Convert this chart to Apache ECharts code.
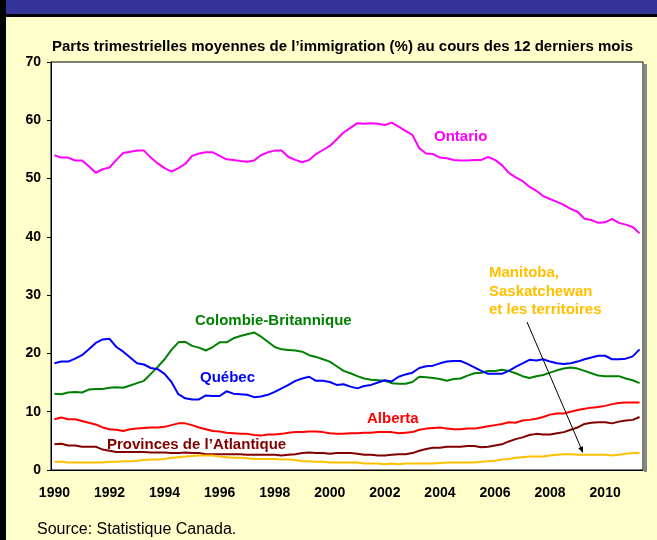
<!DOCTYPE html>
<html>
<head>
<meta charset="utf-8">
<script src="https://cdn.jsdelivr.net/npm/echarts@6/dist/echarts.min.js"></script>
<style>
  html, body { margin: 0; padding: 0; background: #ffffcc; }
  #chart { width: 657px; height: 540px; }
</style>
</head>
<body>
<div id="chart"></div>
<script>
"use strict";

// quarterly points, 1990 T1 .. 2011 T2
const firstYear = 1990;
const quarterCount = 86;
const quarters = [];
for (let i = 0; i < quarterCount; i++) quarters.push((firstYear + Math.floor(i / 4)) + " T" + (i % 4 + 1));

const ontario = [
  54.0, 53.6, 53.6, 53.1, 53.1, 52.1, 51.0, 51.6, 51.9, 53.2,
  54.4, 54.6, 54.8, 54.8, 53.6, 52.6, 51.8, 51.2, 51.8, 52.5,
  53.9, 54.3, 54.5, 54.5, 53.9, 53.3, 53.2, 53.0, 52.9, 53.1,
  54.0, 54.5, 54.8, 54.8, 53.7, 53.2, 52.8, 53.2, 54.2, 54.9,
  55.6, 56.7, 57.9, 58.7, 59.5, 59.4, 59.5, 59.4, 59.2, 59.6,
  58.9, 58.2, 57.5, 55.2, 54.3, 54.2, 53.6, 53.5, 53.2, 53.1,
  53.1, 53.2, 53.2, 53.7, 53.2, 52.3, 51.0, 50.2, 49.6, 48.6,
  47.9, 47.0, 46.5, 46.0, 45.5, 44.8, 44.3, 43.1, 42.9, 42.4,
  42.5, 43.1, 42.4, 42.1, 41.7, 40.6
];
const colombieBritannique = [
  13.1, 13.0, 13.3, 13.4, 13.3, 13.8, 13.9, 13.9, 14.1, 14.2,
  14.1, 14.5, 14.9, 15.3, 16.5, 17.7, 19.0, 20.6, 21.9, 22.0,
  21.3, 21.0, 20.5, 21.1, 21.9, 21.9, 22.6, 23.0, 23.3, 23.6,
  22.9, 22.0, 21.1, 20.7, 20.6, 20.5, 20.3, 19.7, 19.4, 19.0,
  18.6, 17.8, 17.0, 16.6, 16.1, 15.7, 15.5, 15.4, 15.3, 14.9,
  14.8, 14.8, 15.1, 16.0, 15.9, 15.8, 15.6, 15.3, 15.6, 15.7,
  16.2, 16.6, 16.7, 17.0, 17.0, 17.2, 17.0, 16.6, 16.1, 15.8,
  16.1, 16.3, 16.7, 17.1, 17.4, 17.6, 17.4, 17.0, 16.6, 16.2,
  16.1, 16.1, 16.1, 15.7, 15.4, 14.9
];
const quebec = [
  18.3, 18.6, 18.6, 19.1, 19.7, 20.7, 21.8, 22.4, 22.5, 21.1,
  20.3, 19.3, 18.3, 18.1, 17.5, 17.3, 16.5, 15.1, 13.0, 12.3,
  12.1, 12.1, 12.8, 12.7, 12.7, 13.5, 13.1, 13.0, 12.9, 12.5,
  12.6, 12.9, 13.4, 14.0, 14.6, 15.3, 15.7, 16.0, 15.3, 15.3,
  15.1, 14.6, 14.7, 14.3, 14.0, 14.4, 14.6, 15.0, 15.4, 15.2,
  16.0, 16.4, 16.7, 17.5, 17.8, 17.9, 18.3, 18.6, 18.7, 18.7,
  18.2, 17.6, 17.0, 16.5, 16.5, 16.5, 17.0, 17.7, 18.3, 18.9,
  18.8, 19.0, 18.6, 18.3, 18.2, 18.3, 18.6, 19.0, 19.3, 19.6,
  19.6, 19.0, 19.0, 19.1, 19.5, 20.7
];
const alberta = [
  8.7, 9.0, 8.7, 8.7, 8.4, 8.1, 7.8, 7.3, 7.0, 6.9,
  6.7, 7.0, 7.1, 7.2, 7.3, 7.3, 7.4, 7.7, 8.0, 8.0,
  7.7, 7.3, 7.0, 6.7, 6.6, 6.4, 6.3, 6.2, 6.2, 6.0,
  5.9, 6.1, 6.1, 6.2, 6.4, 6.5, 6.5, 6.6, 6.6, 6.5,
  6.3, 6.2, 6.2, 6.3, 6.3, 6.4, 6.4, 6.5, 6.5, 6.5,
  6.3, 6.4, 6.5, 6.9, 7.1, 7.2, 7.3, 7.1, 7.0, 7.0,
  7.1, 7.1, 7.3, 7.5, 7.7, 7.9, 8.2, 8.1, 8.5, 8.6,
  8.8, 9.1, 9.5, 9.7, 9.7, 10.0, 10.3, 10.5, 10.7, 10.8,
  11.0, 11.3, 11.5, 11.6, 11.6, 11.6
];
const atlantique = [
  4.4, 4.5, 4.2, 4.2, 4.0, 4.0, 4.0, 3.5, 3.3, 3.1,
  3.1, 3.1, 3.1, 3.1, 3.0, 3.0, 3.0, 2.9, 2.9, 3.0,
  2.9, 2.9, 2.7, 2.7, 2.7, 2.7, 2.7, 2.7, 2.6, 2.6,
  2.6, 2.6, 2.6, 2.5, 2.6, 2.7, 2.9, 3.0, 2.9, 2.9,
  2.8, 2.9, 2.9, 2.9, 2.8, 2.6, 2.6, 2.5, 2.5, 2.6,
  2.7, 2.7, 2.9, 3.3, 3.6, 3.8, 3.8, 4.0, 4.0, 4.0,
  4.1, 4.1, 3.9, 4.0, 4.2, 4.4, 4.9, 5.3, 5.6, 6.0,
  6.2, 6.1, 6.1, 6.3, 6.5, 6.9, 7.3, 7.9, 8.1, 8.2,
  8.2, 8.0, 8.3, 8.5, 8.6, 9.1
];
const manitobaSaskTerr = [
  1.4, 1.4, 1.3, 1.3, 1.3, 1.3, 1.3, 1.3, 1.4, 1.4,
  1.5, 1.5, 1.6, 1.7, 1.8, 1.8, 1.9, 2.1, 2.2, 2.3,
  2.4, 2.5, 2.5, 2.5, 2.3, 2.2, 2.1, 2.1, 2.0, 1.9,
  1.9, 1.9, 1.9, 1.8, 1.8, 1.7, 1.5, 1.5, 1.4, 1.4,
  1.3, 1.3, 1.3, 1.3, 1.3, 1.1, 1.1, 1.1, 1.0, 1.1,
  1.0, 1.1, 1.1, 1.1, 1.1, 1.1, 1.2, 1.3, 1.3, 1.3,
  1.3, 1.3, 1.4, 1.5, 1.6, 1.8, 1.9, 2.1, 2.2, 2.3,
  2.3, 2.3, 2.5, 2.6, 2.7, 2.7, 2.6, 2.6, 2.6, 2.6,
  2.6, 2.5, 2.6, 2.8, 2.9, 2.9
];

const font = "'Liberation Sans', Arial, sans-serif";
const colors = { ont: "#ff00ff", cb: "#008000", qc: "#0000ff", ab: "#ff0000", atl: "#800000", mb: "#ffc000", band: "#333399", cream: "#ffffcc" };

function line(name, data, color) {
  return { name, type: "line", data, symbol: "none", lineStyle: { color, width: 2 }, itemStyle: { color }, silent: true, animation: false };
}

function label(text, x, y, color) {
  return { type: "text", x, y, style: { text, fill: color, font: "bold 15px " + font, verticalAlign: "middle" } };
}

const chart = echarts.init(document.getElementById("chart"), null, { renderer: "canvas" });
chart.setOption({
  backgroundColor: colors.cream,
  animation: false,
  title: {
    text: "Parts trimestrielles moyennes de l’immigration (%) au cours des 12 derniers mois",
    left: 52, top: 39, padding: 0,
    textStyle: { fontFamily: font, fontSize: 15, fontWeight: "bold", color: "#000" },
  },
  grid: {
    left: 51, right: 14, top: 62, bottom: 70, show: true,
    backgroundColor: "#fff", borderColor: "#000", borderWidth: 1,
  },
  xAxis: {
    type: "category", data: quarters, boundaryGap: true,
    axisLine: { lineStyle: { color: "#000", width: 1 } },
    axisTick: { interval: 3, length: 5, lineStyle: { color: "#000" } },
    axisLabel: {
      interval: (index) => index % 8 === 0, formatter: (value) => value.slice(0, 4),
      color: "#000", fontFamily: font, fontSize: 14, fontWeight: "bold", margin: 16,
    },
  },
  yAxis: {
    type: "value", min: 0, max: 70, interval: 10,
    splitLine: { show: false },
    axisLine: { show: true, lineStyle: { color: "#000", width: 1 } },
    axisTick: { show: true, length: 4, lineStyle: { color: "#000" } },
    axisLabel: { color: "#000", fontFamily: font, fontSize: 14, fontWeight: "bold", margin: 10 },
  },
  series: [
    line("Ontario", ontario, colors.ont),
    line("Colombie-Britannique", colombieBritannique, colors.cb),
    line("Québec", quebec, colors.qc),
    line("Alberta", alberta, colors.ab),
    line("Provinces de l’Atlantique", atlantique, colors.atl),
    line("Manitoba, Saskatchewan et les territoires", manitobaSaskTerr, colors.mb),
  ],
  graphic: [
    { type: "rect", shape: { x: 0, y: 0, width: 657, height: 14 }, style: { fill: colors.band }, silent: true },
    { type: "rect", shape: { x: 0, y: 14, width: 657, height: 3 }, style: { fill: "#000" }, silent: true },
    { type: "rect", shape: { x: 0, y: 0, width: 6, height: 540 }, style: { fill: "#000" }, silent: true },
    { type: "rect", shape: { x: 644, y: 64, width: 3, height: 408 }, style: { fill: "#888" }, silent: true },
    label("Ontario", 434, 137, colors.ont),
    label("Colombie-Britannique", 195, 321, colors.cb),
    label("Québec", 200, 378, colors.qc),
    label("Alberta", 367, 419, colors.ab),
    label("Provinces de l’Atlantique", 107, 445, colors.atl),
    { type: "text", x: 489, y: 264, style: { text: "Manitoba,\nSaskatchewan\net les territoires", fill: "#ffc000", font: "bold 15px " + font, lineHeight: 18.4, verticalAlign: "top" } },
    { type: "line", shape: { x1: 527, y1: 322, x2: 581, y2: 448 }, style: { stroke: "#000", lineWidth: 1 }, z: 100 },
    { type: "polygon", shape: { points: [[583, 453], [578.3, 448.2], [583.0, 446.2]] }, style: { fill: "#000" }, z: 100 },
    { type: "text", x: 37, y: 530, style: { text: "Source: Statistique Canada.", fill: "#000", font: "16px " + font, verticalAlign: "middle" } },
  ],
});
</script>
</body>
</html>
